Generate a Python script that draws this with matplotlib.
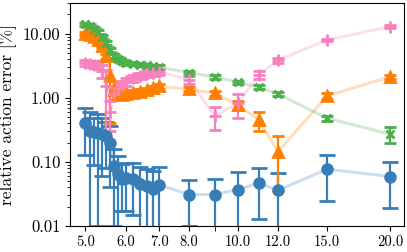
import matplotlib
matplotlib.use("Agg")
import matplotlib.pyplot as plt
from matplotlib.ticker import FixedLocator, FormatStrFormatter, NullFormatter

plt.rcParams['font.family'] = ['cmr10', 'DejaVu Serif']
plt.rcParams['axes.formatter.use_mathtext'] = True
plt.rcParams['mathtext.fontset'] = 'cm'

# parameter values (x axis)
x = [5.0, 5.1, 5.2, 5.3, 5.4, 5.5, 5.6, 5.7, 5.8, 5.9, 6.0,
     6.2, 6.4, 6.6, 6.8, 7.0, 8.0, 9.0, 10.0, 11.0, 12.0, 15.0, 20.0]

# relative action error [%] for the four series, with their errors
blue = [0.41, 0.30, 0.29, 0.28, 0.27, 0.25, 0.20, 0.085, 0.065, 0.055, 0.057,
        0.055, 0.045, 0.042, 0.038, 0.044, 0.031, 0.031, 0.037, 0.047, 0.036, 0.077, 0.059]
blue_err = [0.28, 0.30, 0.20, 0.27, 0.21, 0.17, 0.16, 0.075, 0.058, 0.038, 0.040,
            0.040, 0.038, 0.036, 0.035, 0.038, 0.021, 0.024, 0.033, 0.034, 0.032, 0.052, 0.040]

orange = [10.0, 9.5, 9.0, 8.0, 6.3, 4.4, 2.2, 1.3, 1.15, 1.1, 1.15,
          1.2, 1.25, 1.3, 1.4, 1.5, 1.36, 1.17, 0.77, 0.45, 0.145, 1.07, 2.13]
orange_err = [0.6, 0.6, 0.5, 0.5, 0.4, 0.4, 1.8, 0.15, 0.1, 0.1, 0.1,
              0.1, 0.1, 0.1, 0.1, 0.12, 0.1, 0.1, 0.13, 0.15, 0.11, 0.12, 0.15]

green = [14.0, 13.2, 12.0, 10.5, 9.0, 7.2, 5.5, 4.5, 4.0, 3.7, 3.5,
         3.4, 3.3, 3.2, 3.1, 3.0, 2.47, 2.11, 1.75, 1.46, 1.15, 0.48, 0.27]
green_err = [0.9, 0.8, 0.8, 0.7, 0.6, 0.5, 0.4, 0.3, 0.25, 0.2, 0.2,
             0.2, 0.2, 0.2, 0.2, 0.2, 0.15, 0.12, 0.1, 0.1, 0.08, 0.045, 0.075]

pink = [3.5, 3.4, 3.3, 3.2, 2.6, 1.5, 0.6, 1.15, 1.4, 1.6, 1.8,
        2.0, 2.2, 2.35, 2.45, 2.55, 1.9, 0.52, 0.82, 2.27, 3.85, 7.97, 12.9]
pink_err = [0.4, 0.4, 0.4, 0.4, 0.6, 1.2, 0.3, 0.2, 0.25, 0.25, 0.25,
            0.25, 0.25, 0.25, 0.25, 0.25, 0.25, 0.2, 0.33, 0.3, 0.35, 0.4, 0.6]

xticks = [5, 6, 7, 8, 10, 12, 15, 20]
yticks = [0.01, 0.1, 1, 10]

fig = plt.figure(figsize=(4.07, 2.52), dpi=100)
ax = fig.add_axes([0.172, 0.103, 0.821, 0.885])

series = [
    (blue, blue_err, '#377eb8', 'o', 7, 5.5),
    (orange, orange_err, '#ff7f00', '^', 7, 4.5),
    (green, green_err, '#4daf4a', 'x', 6, 4.5),
    (pink, pink_err, '#f781bf', '+', 8, 4.5),
]
for vals, err, c, m, ms, cs in series:
    ax.plot(x, vals, color=c, alpha=0.25, lw=2.2, zorder=1)
    ax.errorbar(x, vals, yerr=err, fmt=m, color=c, ms=ms, mew=2,
                capsize=cs, elinewidth=1.6, capthick=1.6, zorder=2)

ax.set_xscale('log')
ax.set_yscale('log')
ax.set_xlim(4.66, 21.3)
ax.set_ylim(0.01, 30)

ax.xaxis.set_major_locator(FixedLocator(xticks))
ax.xaxis.set_minor_locator(FixedLocator([9]))
ax.xaxis.set_major_formatter(FormatStrFormatter('%.1f'))
ax.xaxis.set_minor_formatter(NullFormatter())
ax.yaxis.set_major_locator(FixedLocator(yticks))
ax.yaxis.set_major_formatter(FormatStrFormatter('%.2f'))
ax.yaxis.set_minor_formatter(NullFormatter())
ax.tick_params(axis='x', labelsize=10.5)
ax.tick_params(axis='y', labelsize=12)
ax.tick_params(axis='x', which='minor', length=3.5)

ax.set_ylabel('relative action error [%]', fontsize=12.5)

fig.savefig('out.png', dpi=100)
